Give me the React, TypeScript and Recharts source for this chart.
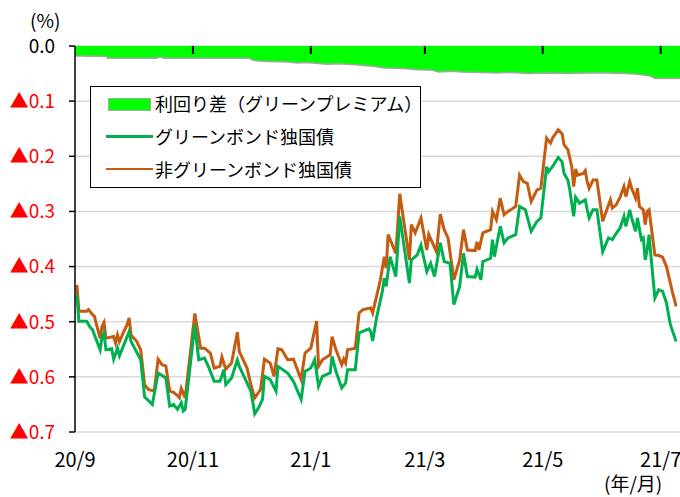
import React from 'react';
import { ComposedChart, Line, Area, Scatter, XAxis, YAxis, CartesianGrid } from 'recharts';

const FONT = "'Noto Sans CJK JP', 'Noto Sans', sans-serif";

// x positions are days since 2020-09-01
const monthTickDays = [0, 61, 122, 181, 242, 303];
const monthTickLabels = ['20/9', '20/11', '21/1', '21/3', '21/5', '21/7'];
const yTickValues = [0, -0.1, -0.2, -0.3, -0.4, -0.5, -0.6, -0.7];

// values are yields in % (minus sign shown as ▲), stored as magnitudes
const greenDays = [1, 2, 6, 8, 9, 13, 14, 15, 16, 19, 20, 22, 23, 28, 29, 34, 36, 40, 43, 47, 49, 51, 53, 55, 56, 57, 62, 64, 67, 69, 72, 75, 77, 78, 81, 84, 85, 89, 91, 93, 95, 97, 98, 101, 104, 105, 110, 113, 117, 119, 122, 124, 126, 128, 132, 133, 135, 138, 140, 141, 145, 147, 152, 153, 154, 156, 159, 160, 161, 163, 166, 168, 173, 174, 177, 179, 182, 184, 186, 189, 191, 194, 196, 199, 201, 203, 207, 208, 210, 211, 215, 216, 217, 220, 222, 224, 228, 230, 233, 236, 239, 241, 244, 245, 247, 250, 252, 253, 255, 256, 258, 259, 261, 264, 265, 266, 268, 270, 273, 276, 278, 279, 282, 284, 285, 287, 288, 290, 291, 293, 294, 295, 296, 297, 298, 300, 302, 304, 306, 308, 311];
const greenVals = [0.451, 0.499, 0.499, 0.511, 0.514, 0.551, 0.527, 0.520, 0.551, 0.549, 0.568, 0.548, 0.562, 0.518, 0.536, 0.569, 0.636, 0.650, 0.593, 0.602, 0.653, 0.650, 0.659, 0.647, 0.662, 0.659, 0.505, 0.569, 0.566, 0.581, 0.608, 0.608, 0.587, 0.614, 0.602, 0.569, 0.581, 0.611, 0.626, 0.667, 0.656, 0.641, 0.599, 0.605, 0.626, 0.581, 0.593, 0.608, 0.641, 0.590, 0.584, 0.569, 0.617, 0.599, 0.593, 0.563, 0.590, 0.620, 0.611, 0.587, 0.587, 0.520, 0.513, 0.518, 0.535, 0.493, 0.445, 0.421, 0.436, 0.382, 0.418, 0.309, 0.430, 0.388, 0.379, 0.361, 0.409, 0.394, 0.418, 0.357, 0.391, 0.394, 0.469, 0.436, 0.376, 0.418, 0.419, 0.405, 0.424, 0.391, 0.385, 0.351, 0.382, 0.327, 0.357, 0.348, 0.342, 0.291, 0.297, 0.336, 0.318, 0.312, 0.219, 0.228, 0.219, 0.202, 0.210, 0.231, 0.243, 0.261, 0.309, 0.274, 0.285, 0.279, 0.297, 0.312, 0.297, 0.297, 0.373, 0.348, 0.351, 0.345, 0.330, 0.309, 0.327, 0.297, 0.312, 0.336, 0.312, 0.351, 0.348, 0.388, 0.370, 0.342, 0.382, 0.457, 0.442, 0.445, 0.466, 0.505, 0.536];

const nonGreenDays = [1, 2, 6, 7, 9, 10, 13, 14, 15, 16, 20, 21, 22, 23, 25, 27, 28, 29, 32, 34, 36, 38, 41, 43, 45, 47, 49, 51, 53, 54, 55, 57, 62, 65, 67, 70, 72, 75, 76, 78, 81, 84, 85, 89, 91, 93, 96, 98, 101, 103, 105, 107, 110, 113, 117, 119, 122, 125, 126, 128, 132, 133, 135, 138, 139, 140, 141, 145, 147, 149, 153, 154, 156, 158, 160, 161, 162, 166, 168, 171, 173, 174, 176, 179, 182, 183, 187, 189, 191, 193, 196, 199, 201, 203, 207, 208, 209, 211, 215, 216, 218, 220, 222, 224, 228, 230, 232, 234, 236, 239, 241, 244, 246, 247, 250, 252, 253, 255, 257, 258, 259, 260, 263, 264, 265, 266, 268, 270, 273, 277, 278, 280, 282, 284, 285, 287, 288, 290, 291, 292, 294, 295, 296, 297, 300, 302, 304, 306, 309, 311];
const nonGreenVals = [0.433, 0.481, 0.481, 0.478, 0.487, 0.490, 0.530, 0.508, 0.501, 0.530, 0.527, 0.539, 0.524, 0.536, 0.520, 0.505, 0.493, 0.524, 0.536, 0.551, 0.614, 0.623, 0.626, 0.568, 0.578, 0.580, 0.626, 0.628, 0.634, 0.638, 0.621, 0.638, 0.485, 0.548, 0.548, 0.557, 0.584, 0.581, 0.564, 0.586, 0.575, 0.519, 0.554, 0.584, 0.614, 0.638, 0.623, 0.568, 0.575, 0.599, 0.549, 0.551, 0.569, 0.568, 0.605, 0.557, 0.548, 0.499, 0.581, 0.569, 0.560, 0.527, 0.551, 0.578, 0.568, 0.575, 0.551, 0.548, 0.484, 0.478, 0.475, 0.484, 0.454, 0.424, 0.382, 0.403, 0.342, 0.376, 0.268, 0.339, 0.388, 0.324, 0.339, 0.312, 0.370, 0.342, 0.373, 0.305, 0.333, 0.348, 0.424, 0.388, 0.333, 0.370, 0.371, 0.355, 0.370, 0.339, 0.333, 0.300, 0.315, 0.276, 0.306, 0.300, 0.291, 0.234, 0.246, 0.249, 0.282, 0.261, 0.258, 0.167, 0.176, 0.167, 0.152, 0.159, 0.179, 0.188, 0.219, 0.255, 0.223, 0.234, 0.231, 0.226, 0.246, 0.258, 0.243, 0.243, 0.318, 0.279, 0.294, 0.288, 0.274, 0.255, 0.273, 0.246, 0.258, 0.276, 0.258, 0.291, 0.297, 0.324, 0.300, 0.297, 0.379, 0.380, 0.383, 0.400, 0.445, 0.472];

const spreadDays = [0, 2, 16, 17, 42, 44, 46, 90, 92, 95, 100, 110, 115, 120, 130, 136, 145, 155, 160, 170, 177, 185, 188, 195, 200, 210, 218, 225, 235, 245, 255, 265, 275, 285, 290, 295, 298, 300, 313];
const spreadVals = [0.018, 0.018, 0.019, 0.022, 0.022, 0.020, 0.022, 0.022, 0.026, 0.027, 0.028, 0.029, 0.031, 0.030, 0.033, 0.032, 0.034, 0.037, 0.040, 0.041, 0.043, 0.044, 0.047, 0.046, 0.047, 0.048, 0.049, 0.048, 0.050, 0.049, 0.050, 0.049, 0.049, 0.050, 0.051, 0.053, 0.055, 0.059, 0.059];

const toSeries = (days: number[], vals: number[]) => days.map((d, i) => ({ d, v: -vals[i] }));
const greenData = toSeries(greenDays, greenVals);
const nonGreenData = toSeries(nonGreenDays, nonGreenVals);
const spreadData = toSeries(spreadDays, spreadVals);
// inner tick marks on the 0.0 axis line, one per month label (except the first, on the y axis)
const axisTickData = monthTickDays.slice(1).map((d) => ({ d, v: 0 }));

const legendItems = ['利回り差（グリーンプレミアム）', 'グリーンボンド独国債', '非グリーンボンド独国債'];

const GREEN = '#00B050';
const ORANGE = '#C55A11';
const AREA = '#00FF00';

const YTick = (props: any) => {
  const { x, y, payload } = props;
  const v = payload.value as number;
  const zero = Math.abs(v) < 1e-9;
  return (
    <text x={x} y={y} dy="0.36em" textAnchor="end" fontSize={19} fontFamily={FONT} fill={zero ? '#000' : '#FF0000'}>
      {zero ? '0.0' : '▲' + Math.abs(v).toFixed(1)}
    </text>
  );
};

const TickMark = (props: any) => {
  const { cx, cy } = props;
  return <line x1={cx} x2={cx} y1={cy} y2={cy + 8} stroke="#000" strokeWidth={2} />;
};

export default function App() {
  return (
    <div style={{ position: 'absolute', left: 0, top: 0, width: 680, height: 497, background: '#fff', fontFamily: FONT }}>
      <ComposedChart width={680} height={497} margin={{ top: 46, right: 0, bottom: 0, left: 0 }}>
        <CartesianGrid horizontal vertical={false} stroke="#D9D9D9" strokeWidth={1.5} />
        <XAxis
          dataKey="d"
          type="number"
          domain={[0, 313]}
          ticks={monthTickDays}
          tickFormatter={(v: number) => monthTickLabels[monthTickDays.indexOf(v)] ?? ''}
          axisLine={false}
          tickLine={false}
          height={65}
          tickSize={6}
          tickMargin={15}
          interval={0}
          tick={{ fontSize: 20, fill: '#000', fontFamily: FONT }}
        />
        <YAxis
          dataKey="v"
          type="number"
          domain={[-0.7, 0]}
          ticks={yTickValues}
          interval={0}
          width={75}
          axisLine={{ stroke: '#000', strokeWidth: 1.5 }}
          tickLine={{ stroke: '#000', strokeWidth: 1.5 }}
          tickSize={6}
          tickMargin={14}
          tick={<YTick />}
        />
        <Area
          data={spreadData}
          dataKey="v"
          type="linear"
          fill={AREA}
          fillOpacity={1}
          stroke="#A6A6A6"
          strokeWidth={1.5}
          isAnimationActive={false}
          dot={false}
          activeDot={false}
        />
        <Line data={nonGreenData} dataKey="v" type="linear" stroke={ORANGE} strokeWidth={3} dot={false} activeDot={false} isAnimationActive={false} />
        <Line data={greenData} dataKey="v" type="linear" stroke={GREEN} strokeWidth={3} dot={false} activeDot={false} isAnimationActive={false} />
        <Scatter data={axisTickData} dataKey="v" shape={<TickMark />} isAnimationActive={false} legendType="none" />
        <XAxis
          xAxisId="top"
          orientation="top"
          type="number"
          dataKey="d"
          domain={[0, 313]}
          ticks={monthTickDays}
          interval={0}
          height={0}
          tick={false}
          tickLine={false}
          axisLine={{ stroke: '#000', strokeWidth: 1.5 }}
        />
      </ComposedChart>
      <div style={{ position: 'absolute', left: 30, top: 8, fontSize: 19, lineHeight: '24px', color: '#000' }}>(%)</div>
      <div style={{ position: 'absolute', left: 604, top: 472, fontSize: 19, lineHeight: '21px', color: '#000' }}>(年/月)</div>
      <div style={{ position: 'absolute', left: 90, top: 86, width: 331, height: 102, boxSizing: 'border-box', border: '1.5px solid #000', background: '#fff' }}>
        <div style={{ position: 'absolute', left: 17, top: 11, width: 41, height: 11, background: AREA, border: '1.5px solid #A6A6A6' }} />
        <div style={{ position: 'absolute', left: 15, top: 48, width: 47, height: 3, background: GREEN }} />
        <div style={{ position: 'absolute', left: 15, top: 81, width: 47, height: 2, background: ORANGE }} />
        {legendItems.map((t, i) => (
          <div key={t} style={{ position: 'absolute', left: 64, top: 3 + i * 33, fontSize: 18, lineHeight: '27px', color: '#000', whiteSpace: 'nowrap' }}>{t}</div>
        ))}
      </div>
    </div>
  );
}
